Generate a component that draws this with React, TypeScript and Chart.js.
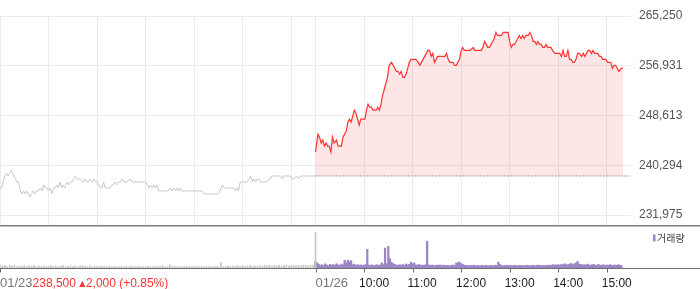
import React, { useEffect, useRef } from "react";
import { Chart, registerables } from "chart.js";

Chart.register(...registerables);

// ---- session layout (minutes) ----
const SESSION_MINUTES = 390; // 09:00 - 15:30
const prevDate = "01/23";
const curDate = "01/26";
const hourLabels = ["10:00", "11:00", "12:00", "13:00", "14:00", "15:00"];

// ---- previous day (01/23) price, minutes after 09:00 ----
const prevMin = [
  0, 2, 4, 6, 8, 10, 12, 14, 17, 19,
  21, 23, 25, 27, 29, 31, 33, 35, 37, 39,
  41, 43, 45, 47, 50, 52, 54, 56, 58, 60,
  62, 64, 66, 68, 70, 72, 74, 76, 78, 80,
  83, 85, 87, 89, 91, 93, 95, 97, 99, 103,
  105, 107, 109, 111, 114, 116, 118, 120, 122, 124,
  126, 128, 130, 132, 134, 136, 138, 140, 142, 144,
  147, 149, 151, 153, 157, 161, 163, 165, 169, 173,
  178, 180, 182, 184, 186, 188, 190, 192, 194, 196,
  198, 202, 206, 208, 211, 213, 215, 217, 219, 221,
  223, 225, 229, 231, 233, 237, 241, 246, 250, 252,
  254, 256, 260, 264, 266, 270, 272, 275, 277, 279,
  281, 285, 289, 291, 293, 295, 297, 299, 301, 303,
  305, 308, 310, 312, 314, 316, 318, 320, 322, 326,
  330, 332, 334, 336, 338, 343, 347, 349, 351, 355,
  359, 361, 363, 367, 369, 372, 374, 380, 384, 390,
];
const prevPrice = [
  236500, 236500, 237500, 238500, 239000, 238500, 239000, 239500, 238500, 238000,
  237500, 237500, 236000, 235500, 236000, 235500, 236000, 235500, 235000, 235500,
  236000, 235500, 236000, 236000, 236500, 236000, 237000, 236500, 236500, 236000,
  236500, 235500, 236500, 236500, 237000, 236500, 237500, 236500, 237000, 236500,
  237500, 237000, 237500, 237500, 238000, 238500, 238000, 238000, 238000, 237500,
  238000, 237500, 237500, 238000, 237500, 238000, 237500, 237500, 237000, 236500,
  236500, 237500, 236500, 236500, 236500, 236500, 237000, 237000, 237500, 237000,
  237500, 237500, 238000, 237500, 237500, 238000, 237500, 237500, 237500, 237500,
  237500, 237500, 237000, 236500, 237000, 236500, 237000, 236500, 237000, 236000,
  236000, 236000, 236000, 236000, 236500, 236000, 236500, 236000, 236500, 236000,
  236500, 236000, 236000, 236000, 236000, 236000, 236000, 236000, 236000, 235500,
  235500, 235500, 235500, 235500, 235500, 235500, 236000, 237000, 236500, 236500,
  236500, 236500, 236500, 236000, 236500, 236000, 237500, 237500, 237500, 237500,
  237500, 238000, 238500, 237500, 238000, 237500, 238000, 238000, 237500, 237500,
  237500, 238000, 238000, 238500, 238500, 238500, 238500, 238000, 238500, 238500,
  238500, 238000, 238000, 238500, 238000, 238500, 238500, 238500, 238500, 238500,
];

// ---- current day (01/26) price, minutes after 09:00 ----
const curMin = [
  0, 3, 5, 7, 9, 11, 13, 15, 17, 19,
  21, 23, 26, 28, 30, 32, 34, 36, 38, 40,
  42, 44, 46, 48, 50, 52, 54, 56, 58, 61,
  63, 65, 67, 69, 71, 73, 75, 77, 79, 81,
  83, 85, 87, 89, 91, 94, 96, 98, 100, 102,
  104, 106, 108, 110, 112, 114, 116, 118, 120, 122,
  124, 127, 129, 131, 133, 135, 137, 139, 141, 143,
  145, 147, 149, 151, 153, 155, 157, 160, 162, 164,
  166, 168, 170, 172, 174, 176, 178, 180, 182, 184,
  187, 191, 195, 197, 199, 203, 205, 207, 209, 211,
  213, 215, 217, 219, 221, 223, 225, 228, 230, 232,
  234, 236, 238, 240, 242, 244, 246, 248, 250, 252,
  254, 256, 258, 260, 263, 265, 267, 269, 271, 273,
  275, 277, 279, 281, 283, 285, 287, 289, 291, 293,
  296, 298, 300, 302, 304, 306, 308, 310, 312, 314,
  316, 318, 320, 322, 324, 326, 329, 331, 333, 335,
  337, 339, 341, 343, 345, 347, 349, 351, 353, 355,
  357, 359, 361, 363, 365, 367, 369, 371, 373, 375,
  378, 380,
];
const curPrice = [
  242500, 245500, 245000, 244000, 244500, 243500, 244000, 243500, 243500, 242500,
  245000, 244000, 244500, 243500, 243500, 243500, 245000, 245500, 246000, 247500,
  248000, 247500, 248500, 249500, 249000, 248000, 247000, 248000, 248000, 248000,
  249500, 250500, 250000, 250000, 249500, 249500, 249500, 250000, 249500, 250500,
  252000, 253000, 254000, 255000, 257000, 257500, 257000, 256500, 256000, 256000,
  255500, 256000, 255000, 255000, 255500, 256500, 257500, 258000, 258000, 258000,
  258000, 257500, 257000, 257500, 258000, 258500, 259000, 259500, 259500, 258500,
  259000, 257500, 258000, 258500, 258500, 258500, 258500, 258500, 259000, 258000,
  257500, 257500, 257500, 257000, 257000, 257500, 258000, 259500, 260000, 259500,
  259500, 259500, 260000, 259500, 259500, 259500, 259500, 260000, 261000, 260500,
  260000, 260000, 260500, 261000, 261500, 262500, 262000, 262000, 262000, 262500,
  262500, 262500, 262500, 261000, 260000, 260500, 260500, 261000, 261500, 262000,
  261500, 262000, 261500, 262000, 262000, 262500, 262000, 261000, 261000, 260500,
  261000, 260500, 260500, 260000, 260000, 260500, 260000, 260000, 260000, 259500,
  259000, 259000, 259000, 259000, 258500, 259500, 258500, 258500, 259500, 258000,
  258000, 257500, 257500, 258000, 259000, 259000, 258500, 259000, 258500, 259000,
  259500, 259500, 259000, 259500, 259000, 259000, 259000, 258500, 258500, 258000,
  258000, 258000, 257500, 257500, 257500, 256500, 257000, 257000, 256500, 256000,
  256500, 256500,
];

const prevClose = 238500;
const prevChange = 2000;
const prevChangePct = 0.85;

// ---- price axis ----
const priceTicks = [231975, 240293.75, 248612.5, 256931.25, 265250];
const priceMin = 230303;
const priceMax = 265250;

// ---- volume (shares) ----
// previous day, 3-minute buckets from 09:00, then the 15:30 closing auction
const prevVol = [
  3000, 2200, 2600, 1500, 2800, 1900, 2400, 1200, 2000, 1700,
  2500, 1400, 2100, 1800, 2600, 1300, 2200, 1600, 2000, 1400,
  1800, 2400, 1500, 2100, 1200, 1900, 2300, 1400, 1700, 2000,
  1500, 2200, 1300, 1800, 2500, 1600, 1400, 2100, 1200, 1800,
  1600, 1300, 2000, 1500, 1100, 1900, 1400, 1700, 1200, 1500,
  1800, 1300, 1600, 1100, 2000, 1400, 1200, 1700, 1300, 1500,
  1200, 1600, 1400, 1100, 1900, 1300, 1500, 2800, 1200, 1400,
  3100, 1300, 1600, 1200, 1400, 1100, 1700, 1300, 1500, 1200,
  1400, 1800, 1200, 1500, 1100, 1600, 1300, 1400, 1200, 1700,
  1500, 5600, 1300, 1800, 2200, 1400, 1900, 1600, 2100, 1500,
  2400, 1700, 2000, 2600, 1800, 2200, 1500, 2300, 1900, 2500,
  2100, 2700, 1800, 2400, 2000, 2600, 1700, 2300, 2900, 2000,
  2400, 2800, 2100, 2600, 2200, 3000, 2500, 2300, 2700, 2900,
];
const prevCloseAuctionVol = 36000;
// current day, 2-minute buckets from 09:00
const curVol = [
  6200, 5100, 3800, 2600, 3300, 2500, 4100, 3000, 2400, 3600,
  2800, 3500, 2600, 4200, 3100, 2700, 3900, 3200, 7600, 5300,
  8000, 6200, 7400, 3300, 3900, 2600, 3400, 2500, 3100, 2200,
  2900, 3400, 18700, 3000, 2600, 3100, 2400, 2800, 3300, 2500,
  3000, 5200, 3400, 20000, 4300, 21700, 9300, 5600, 4400, 3600,
  3000, 2600, 3300, 2800, 3500, 2600, 4100, 3000, 3600, 6000,
  4200, 5100, 3200, 2800, 3500, 2600, 3000, 2700, 3300, 26700,
  3200, 2700, 3000, 2600, 2400, 2900, 2500, 3100, 2300, 2800,
  2500, 2700, 2400, 2200, 2600, 3000, 2500, 4800, 5200, 6000,
  4500, 3600, 2800, 2600, 2300, 2700, 2400, 2500, 2900, 2200,
  2600, 2300, 2500, 2800, 2200, 2600, 2400, 2300, 2700, 2500,
  2300, 2800, 2600, 6000, 3600, 2400, 2200, 2500, 2700, 2300,
  2600, 2400, 2200, 2800, 2500, 2300, 2700, 2400, 2600, 2200,
  2500, 2800, 2300, 2400, 2700, 2500, 2200, 2600, 2900, 2400,
  2700, 2500, 2300, 2800, 2600, 3000, 2700, 3400, 2800, 3100,
  3300, 2900, 3600, 3200, 4200, 3400, 3000, 3800, 4600, 3500,
  4200, 5000, 6700, 4000, 3600, 3000, 3400, 2800, 3900, 3100,
  2800, 3300, 3600, 2700, 3000, 3500, 2600, 2900, 3200, 2500,
  3000, 2700, 3400, 2800, 2600, 3100, 2700, 3300, 2900, 2600,
];
const volumeLabel = "거래량";

// ---- styles ----
const FONT = '"Liberation Sans", Arial, sans-serif';
const GRID = "#ececec";
const RED = "#ff3333";
const PURPLE = "#9d85c8";

const fmt = (v: number) => Math.round(v).toLocaleString("en-US");
const gridMinutes = [0, 60, 120, 180, 240, 300, 360, 390, 450, 510, 570, 630, 690, 750];

const volDecor = {
  id: "volDecor",
  beforeDatasetsDraw(chart: any) {
    const { ctx } = chart;
    ctx.save();
    ctx.fillStyle = "#7c7c7c";
    ctx.fillRect(0, 0, chart.width, 1.5);
    ctx.restore();
  },
  afterDraw(chart: any) {
    const { ctx, chartArea } = chart;
    const xs = chart.scales.x;
    const base = chartArea.bottom;
    ctx.save();
    ctx.strokeStyle = "#6e6e6e";
    ctx.lineWidth = 1;
    ctx.beginPath();
    ctx.moveTo(0, base + 0.5);
    ctx.lineTo(chart.width, base + 0.5);
    const tickVals = [0, SESSION_MINUTES, ...hourLabels.map((_, i) => SESSION_MINUTES + 60 * (i + 1))];
    for (const v of tickVals) {
      const px = Math.round(xs.getPixelForValue(v)) + 0.5;
      ctx.moveTo(px, base);
      ctx.lineTo(px, base + 4.5);
    }
    ctx.stroke();

    const ly = base + 19;
    ctx.textBaseline = "alphabetic";
    ctx.textAlign = "left";
    // date labels
    ctx.font = `13px ${FONT}`;
    ctx.fillStyle = "#777";
    const x0 = xs.getPixelForValue(0);
    ctx.fillText(prevDate, x0, ly);
    let rx = x0 + ctx.measureText(prevDate).width;
    ctx.fillText(curDate, xs.getPixelForValue(SESSION_MINUTES), ly);
    // previous close info
    ctx.fillStyle = RED;
    ctx.font = `12px ${FONT}`;
    const t1 = fmt(prevClose) + " ";
    ctx.fillText(t1, rx, ly);
    rx += ctx.measureText(t1).width;
    ctx.font = `8px "DejaVu Sans", sans-serif`;
    ctx.fillText("▲", rx, ly - 1);
    rx += ctx.measureText("▲").width + 0.5;
    ctx.font = `12px ${FONT}`;
    ctx.fillText(`${fmt(prevChange)} (+${prevChangePct.toFixed(2)}%)`, rx, ly);
    // hour labels
    ctx.fillStyle = "#222";
    hourLabels.forEach((h, i) => {
      const px = xs.getPixelForValue(SESSION_MINUTES + 60 * (i + 1));
      ctx.fillText(h, px - 5, ly);
    });
    // legend
    const lx = chartArea.right + 22;
    ctx.fillStyle = PURPLE;
    ctx.fillRect(lx, chartArea.top + 2.5, 2.5, 7);
    ctx.fillStyle = "#444";
    ctx.font = `10px "Noto Sans CJK KR", sans-serif`;
    ctx.textBaseline = "middle";
    ctx.fillText(volumeLabel, lx + 4, chartArea.top + 6);
    ctx.restore();
  },
};

export default function App() {
  const priceRef = useRef<HTMLCanvasElement>(null);
  const volRef = useRef<HTMLCanvasElement>(null);

  useEffect(() => {
    document.body.style.margin = "0";
    Chart.defaults.font.family = FONT;

    const priceChart = new Chart(priceRef.current as HTMLCanvasElement, {
      type: "line",
      data: {
        datasets: [
          {
            data: prevMin.map((m, i) => ({ x: m, y: prevPrice[i] })),
            borderColor: "#c8c8c8",
            borderWidth: 1,
            pointRadius: 0,
            fill: false,
          },
          {
            data: curMin.map((m, i) => ({ x: SESSION_MINUTES + m, y: curPrice[i] })),
            borderColor: RED,
            borderWidth: 1.2,
            pointRadius: 0,
            fill: { value: prevClose },
            backgroundColor: "rgba(245, 60, 70, 0.13)",
          },
          {
            data: [
              { x: SESSION_MINUTES, y: prevClose },
              { x: SESSION_MINUTES * 2, y: prevClose },
            ],
            borderColor: "#555",
            borderWidth: 1,
            borderDash: [1, 2],
            pointRadius: 0,
            fill: false,
          },
        ],
      } as any,
      options: {
        animation: false,
        responsive: false,
        maintainAspectRatio: false,
        layout: { padding: { top: 16, left: 0, right: 0, bottom: 0 } },
        plugins: { legend: { display: false }, tooltip: { enabled: false } },
        scales: {
          x: {
            type: "linear",
            min: 0,
            max: SESSION_MINUTES * 2,
            ticks: { display: false },
            grid: { color: GRID, drawTicks: false },
            border: { display: false },
            afterBuildTicks: (s: any) => {
              s.ticks = gridMinutes.map((v) => ({ value: v }));
            },
            afterFit: (s: any) => {
              s.height = 0;
              s.paddingLeft = 0;
              s.paddingRight = 0;
            },
          },
          y: {
            position: "right",
            min: priceMin,
            max: priceMax,
            ticks: {
              color: "#555",
              font: { family: FONT, size: 12 },
              padding: 8,
              callback: (v: any) => fmt(Number(v)),
            },
            grid: { color: GRID, drawTicks: false },
            border: { display: false },
            afterBuildTicks: (s: any) => {
              s.ticks = priceTicks.map((v) => ({ value: v }));
            },
            afterFit: (s: any) => {
              s.width = 69;
              s.paddingTop = 0;
              s.paddingBottom = 0;
            },
          },
        },
      } as any,
    });

    const allVol = [...prevVol, prevCloseAuctionVol, ...curVol];
    const volChart = new Chart(volRef.current as HTMLCanvasElement, {
      type: "bar",
      data: {
        datasets: [
          {
            data: [
              ...prevVol.map((v, i) => ({ x: i * 3, y: v })),
              { x: SESSION_MINUTES, y: prevCloseAuctionVol },
            ],
            backgroundColor: "#c4c4c4",
            barThickness: 1,
            grouped: false,
          },
          {
            data: curVol.map((v, i) => ({ x: SESSION_MINUTES + i * 2, y: v })),
            backgroundColor: PURPLE,
            barThickness: 1.6,
            grouped: false,
          },
        ],
      } as any,
      options: {
        animation: false,
        responsive: false,
        maintainAspectRatio: false,
        layout: { padding: { top: 7, left: 0, right: 69, bottom: 21 } },
        plugins: { legend: { display: false }, tooltip: { enabled: false } },
        scales: {
          x: {
            type: "linear",
            display: false,
            offset: false,
            grid: { offset: false },
            min: 0,
            max: SESSION_MINUTES * 2,
          },
          y: { display: false, min: 0, max: Math.max(...allVol) },
        },
      } as any,
      plugins: [volDecor],
    });

    return () => {
      priceChart.destroy();
      volChart.destroy();
    };
  }, []);

  return (
    <div style={{ position: "absolute", left: 0, top: 0, width: 700, height: 289, background: "#fff" }}>
      <canvas
        ref={priceRef}
        width={700}
        height={225}
        style={{ position: "absolute", left: 0, top: 0, width: 700, height: 225 }}
      />
      <canvas
        ref={volRef}
        width={700}
        height={64}
        style={{ position: "absolute", left: 0, top: 225, width: 700, height: 64 }}
      />
    </div>
  );
}
